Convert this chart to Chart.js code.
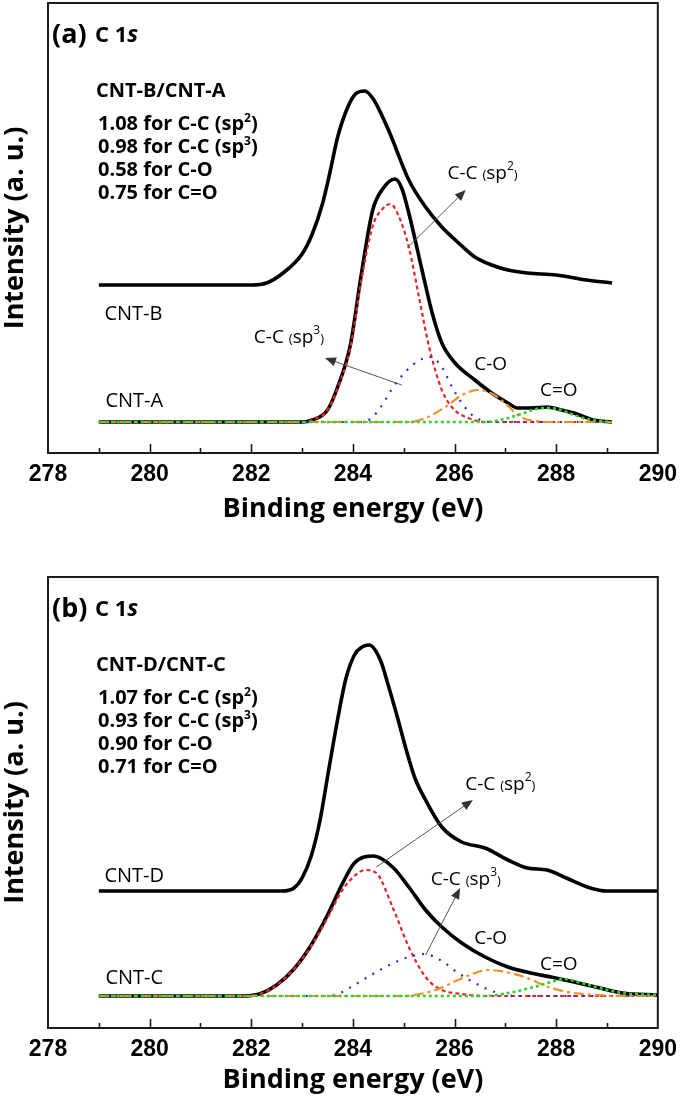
<!DOCTYPE html>
<html><head><meta charset="utf-8">
<script src="https://cdn.jsdelivr.net/npm/chart.js@4.4.1/dist/chart.umd.min.js"></script>
<style>
html,body{margin:0;padding:0;background:#fff;}
#wrap{position:relative;width:685px;height:1106px;overflow:hidden;}
.pane{position:absolute;left:0;width:685px;height:553px;}
</style></head><body>
<div id="wrap">
<div class="pane" style="top:0"><canvas id="ca" width="685" height="553"></canvas></div>
<div class="pane" style="top:553px"><canvas id="cb" width="685" height="553"></canvas></div>
</div>
<script>
// ---------- Panel (a) data : binding energy (eV) / intensity (a.u.) ----------
const B_E = [279.0,282.0,282.3,282.6,283.0,283.2,283.4,283.55,283.7,283.9,284.05,284.23,284.4,284.7,285.1,285.43,285.75,286.08,286.4,286.73,287.05,287.43,288.0,288.6,289.1];
const B_I = [137,137,139,148,168,188,218,250,285,315,328,331,323,292,242,215,195,179,165,157,152,149,147,142,139];
const A_E = [279.0,283.0,283.2,283.5,283.7,283.95,284.16,284.39,284.6,284.83,284.96,285.1,285.36,285.56,285.75,286.01,286.4,286.73,287.05,287.24,287.5,287.82,288.1,288.35,288.73,289.1];
const A_I = [0,0,2,12,35,77,146,212,234,243,234,209,152,109,79,59,42,29,19,14,14,15,12,9,2,0];
const A_SP2_E = [279.0,283.0,283.2,283.5,283.7,283.95,284.16,284.39,284.6,284.74,284.9,285.1,285.3,285.5,285.75,286.0,286.27,286.6,289.1];
const A_SP2_I = [0,0,2,12,34,74,140,196,214,218,206,175,125,75,32,12,4,0,0];
const A_SP3_E = [279.0,284.2,284.46,284.85,285.2,285.53,285.75,285.95,286.2,286.4,286.7,289.1];
const A_SP3_I = [0,0,9,39,58,65,55,35,15,5,0,0];
const A_CO_E = [279.0,285.1,285.43,285.82,286.15,286.46,286.75,286.99,287.3,287.6,288.0,289.1];
const A_CO_I = [0,0,4,15,27,32,28,19,5,1,0,0];
const A_CdO_E = [279.0,286.6,286.9,287.37,287.6,287.82,288.1,288.35,288.6,288.86,289.1];
const A_CdO_I = [0,0,2,9,13,14,12,7,3,1,0];

// ---------- Panel (b) data ----------
const D_E = [279.0,282.6,282.84,283.0,283.18,283.35,283.52,283.69,283.86,284.03,284.18,284.32,284.54,284.7,284.88,285.05,285.22,285.43,285.75,286.14,286.6,287.05,287.43,287.82,288.2,288.67,288.99,290.0];
const D_I = [105,105,108,118,140,175,225,274,317,341,349,351,336,310,278,246,218,196,169,154,148,136,128,126,118,108,105,105];
const C_E = [279.0,281.8,282.16,282.5,282.84,283.18,283.52,283.78,284.03,284.41,284.78,285.1,285.43,285.75,286.14,286.6,287.05,287.5,287.9,288.35,288.86,289.3,290.0];
const C_I = [0,0,2,11,27,51,83,111,133,140,129,109,86,69,53,39,29,23,19,14,8,3,1];
const C_SP2_E = [279.0,281.8,282.16,282.5,282.84,283.18,283.52,283.78,284.03,284.24,284.46,284.78,285.1,285.43,285.75,286.14,286.6,290.0];
const C_SP2_I = [0,0,2,11,27,50,80,105,120,126,123,89,49,19,6,2,0,0];
const C_SP3_E = [279.0,283.5,283.7,284.0,284.29,284.8,285.1,285.4,285.75,286.07,286.4,286.79,287.2,290.0];
const C_SP3_I = [0,0,2,10,19,33,39,42,35,23,13,4,0,0];
const C_CO_E = [279.0,284.97,285.56,286.07,286.35,286.65,287.0,287.37,287.9,288.35,288.8,289.3,290.0];
const C_CO_I = [0,0,5,16,22,26,24,19,8,3,1,0,0];
const C_CdO_E = [279.0,286.6,287.05,287.57,287.9,288.15,288.5,288.86,289.3,290.0];
const C_CdO_I = [0,0,3,9,14,17,13,8,3,1];

// ---------- Tick / text content ----------
const X_MIN = 278, X_MAX = 290, X_STEP = 2;
const MINOR_TICKS = [279,280,281,282,283,284,285,286,287,288,289];
const X_TITLE = 'Binding energy (eV)';
const Y_TITLE = 'Intensity (a. u.)';
const RATIOS_A = ['CNT-B/CNT-A', ['1.08','2'], ['0.98','3'], ['0.58','C-O'], ['0.75','C=O']];
const RATIOS_B = ['CNT-D/CNT-C', ['1.07','2'], ['0.93','3'], ['0.90','C-O'], ['0.71','C=O']];

const SANS = '"Open Sans","Noto Sans",sans-serif';
const xy = (E, I) => E.map((x, i) => ({x, y: I[i]}));

function line(label, E, I, color, width, dash, order) {
  return {label, data: xy(E, I), borderColor: color, borderWidth: width, borderDash: dash,
    pointRadius: 0, fill: false, cubicInterpolationMode: 'monotone', order, borderCapStyle: 'butt'};
}

function rich(ctx, x, y, segs, align) {
  let w = 0;
  segs.forEach(s => { ctx.font = s.f; s.w = ctx.measureText(s.t).width; w += s.w; });
  let cx = align === 'center' ? x - w / 2 : x;
  ctx.textAlign = 'left'; ctx.textBaseline = 'alphabetic'; ctx.fillStyle = '#000';
  segs.forEach(s => { ctx.font = s.f; ctx.fillText(s.t, cx, y + (s.dy || 0)); cx += s.w; });
}
function arrow(ctx, x1, y1, x2, y2) {
  const a = Math.atan2(y2 - y1, x2 - x1), L = 11, W = 4.5;
  ctx.save();
  ctx.strokeStyle = '#555'; ctx.fillStyle = '#333'; ctx.lineWidth = 1;
  ctx.beginPath(); ctx.moveTo(x1, y1); ctx.lineTo(x2 - L * 0.8 * Math.cos(a), y2 - L * 0.8 * Math.sin(a)); ctx.stroke();
  ctx.beginPath(); ctx.moveTo(x2, y2);
  ctx.lineTo(x2 - L * Math.cos(a) + W * Math.sin(a), y2 - L * Math.sin(a) - W * Math.cos(a));
  ctx.lineTo(x2 - L * Math.cos(a) - W * Math.sin(a), y2 - L * Math.sin(a) + W * Math.cos(a));
  ctx.closePath(); ctx.fill();
  ctx.restore();
}
function spLabel(n) {
  return [
    {t: 'C-C ', f: '19px ' + SANS},
    {t: '(', f: '13px ' + SANS},
    {t: 'sp', f: '19px ' + SANS},
    {t: n, f: '12px ' + SANS, dy: -9},
    {t: ')', f: '13px ' + SANS}
  ];
}

function makePanel(canvasId, cfg) {
  const decor = {
    id: 'decor',
    afterDraw(chart) {
      const ctx = chart.ctx, ca = chart.chartArea, xs = chart.scales.x, ys = chart.scales.y;
      const P = (e, v) => [xs.getPixelForValue(e), ys.getPixelForValue(v)];
      ctx.save();
      // frame
      ctx.strokeStyle = '#1a1a1a'; ctx.lineWidth = 2;
      ctx.strokeRect(ca.left, ca.top, ca.right - ca.left, ca.bottom - ca.top);
      // inward ticks
      ctx.lineWidth = 1.6;
      MINOR_TICKS.forEach(v => {
        const px = Math.round(xs.getPixelForValue(v)) + 0.5;
        const len = v % 2 === 0 ? 9 : 5;
        ctx.beginPath(); ctx.moveTo(px, ca.bottom); ctx.lineTo(px, ca.bottom - len); ctx.stroke();
      });
      // axis titles
      ctx.fillStyle = '#000';
      ctx.font = 'bold 27px ' + SANS; ctx.textAlign = 'center'; ctx.textBaseline = 'middle';
      ctx.fillText(X_TITLE, (ca.left + ca.right) / 2, ca.bottom + cfg.xTitleOff);
      ctx.save();
      ctx.translate(23, (ca.top + ca.bottom) / 2); ctx.rotate(-Math.PI / 2);
      ctx.textBaseline = 'alphabetic';
      ctx.fillText(Y_TITLE, 0, 0);
      ctx.restore();
      // panel tag
      rich(ctx, ca.left + 4, ca.top + 40, [{t: cfg.tag, f: 'bold 27px ' + SANS}]);
      rich(ctx, ca.left + 47, ca.top + 39, [
        {t: 'C ', f: 'bold 22px ' + SANS}, {t: '1', f: 'bold 22px ' + SANS}, {t: 's', f: 'italic bold 23px ' + SANS}]);
      // ratio block
      const R = cfg.ratios, bx = ca.left + 50, bf = 'bold 20px ' + SANS;
      rich(ctx, bx - 2, ca.top + 93.5, [{t: R[0], f: bf}]);
      const ys2 = [127, 150, 172.5, 196];
      for (let i = 1; i < 5; i++) {
        const [num, what] = R[i];
        let segs;
        if (what === '2' || what === '3') {
          segs = [{t: num + ' for C-C (sp', f: bf}, {t: what, f: 'bold 12px ' + SANS, dy: -8}, {t: ')', f: bf}];
        } else segs = [{t: num + ' for ' + what, f: bf}];
        rich(ctx, bx, ca.top + ys2[i - 1], segs);
      }
      // curve labels
      cfg.labels.forEach(l => {
        const [x, y] = P(l.e, l.v);
        const segs = l.sp ? spLabel(l.sp) : [{t: l.t, f: (l.size || 19) + 'px ' + SANS}];
        rich(ctx, x, y + 7, segs, l.align || 'left');
      });
      cfg.arrows.forEach(a => {
        const [x1, y1] = P(a[0], a[1]); const [x2, y2] = P(a[2], a[3]);
        arrow(ctx, x1, y1, x2, y2);
      });
      ctx.restore();
    }
  };
  return new Chart(document.getElementById(canvasId), {
    type: 'line',
    data: {datasets: cfg.datasets},
    options: {
      responsive: false, animation: false, devicePixelRatio: 1,
      layout: {padding: {left: 48, right: 20, top: cfg.padTop, bottom: 0}},
      plugins: {legend: {display: false}, tooltip: {enabled: false}},
      scales: {
        x: {type: 'linear', min: X_MIN, max: X_MAX,
          afterFit(s) { s.height = cfg.xAxisH; },
          grid: {display: false, drawTicks: false, tickLength: 0},
          border: {display: false},
          ticks: {stepSize: X_STEP, autoSkip: false, maxRotation: 0, padding: cfg.tickPad, color: '#000',
            font: {family: '"Liberation Sans", Arial, sans-serif', size: 23, weight: 'bold'},
            callback: v => String(v)}},
        y: {type: 'linear', display: false, min: cfg.yMin, max: cfg.yMax}
      }
    },
    plugins: [decor]
  });
}

const RED = '#e3262b', BLUE = '#2b2bd6', ORANGE = '#f0902a', GREEN = '#33d12e';

makePanel('ca', {
  tag: '(a)', ratios: RATIOS_A, padTop: 3, xAxisH: 100, tickPad: 8, xTitleOff: 56,
  yMin: -31, yMax: 419,
  datasets: [
    line('C=O', A_CdO_E, A_CdO_I, GREEN, 2.6, [3, 3], 1),
    line('C-O', A_CO_E, A_CO_I, ORANGE, 2.2, [10, 4, 3, 4], 2),
    line('sp3', A_SP3_E, A_SP3_I, BLUE, 2.2, [2, 7], 3),
    line('sp2', A_SP2_E, A_SP2_I, RED, 2.2, [4, 3], 4),
    line('CNT-A', A_E, A_I, '#000', 3.6, [], 10),
    line('CNT-B', B_E, B_I, '#000', 3.6, [], 11)
  ],
  labels: [
    {t: 'CNT-B', e: 279.11, v: 109, size: 20},
    {t: 'CNT-A', e: 279.13, v: 22, size: 20},
    {sp: '2', e: 285.86, v: 250},
    {sp: '3', e: 282.05, v: 86},
    {t: 'C-O', e: 286.71, v: 59, align: 'center'},
    {t: 'C=O', e: 288.05, v: 33, align: 'center'}
  ],
  arrows: [[285.07, 174, 286.22, 232], [284.96, 37, 283.45, 64]]
});

makePanel('cb', {
  tag: '(b)', ratios: RATIOS_B, padTop: 24, xAxisH: 78, tickPad: 8, xTitleOff: 52,
  yMin: -32, yMax: 419,
  datasets: [
    line('C=O', C_CdO_E, C_CdO_I, GREEN, 2.6, [3, 3], 1),
    line('C-O', C_CO_E, C_CO_I, ORANGE, 2.2, [10, 4, 3, 4], 2),
    line('sp3', C_SP3_E, C_SP3_I, BLUE, 2.2, [2, 7], 3),
    line('sp2', C_SP2_E, C_SP2_I, RED, 2.2, [4, 3], 4),
    line('CNT-C', C_E, C_I, '#000', 3.6, [], 10),
    line('CNT-D', D_E, D_I, '#000', 3.6, [], 11)
  ],
  labels: [
    {t: 'CNT-D', e: 279.11, v: 121.5, size: 20},
    {t: 'CNT-C', e: 279.13, v: 19.4, size: 20},
    {sp: '2', e: 286.21, v: 213},
    {sp: '3', e: 285.53, v: 118},
    {t: 'C-O', e: 286.71, v: 59, align: 'center'},
    {t: 'C=O', e: 288.05, v: 33, align: 'center'}
  ],
  arrows: [[284.46, 129, 286.36, 196], [285.43, 41, 286.11, 108]]
});
</script>
</body></html>
